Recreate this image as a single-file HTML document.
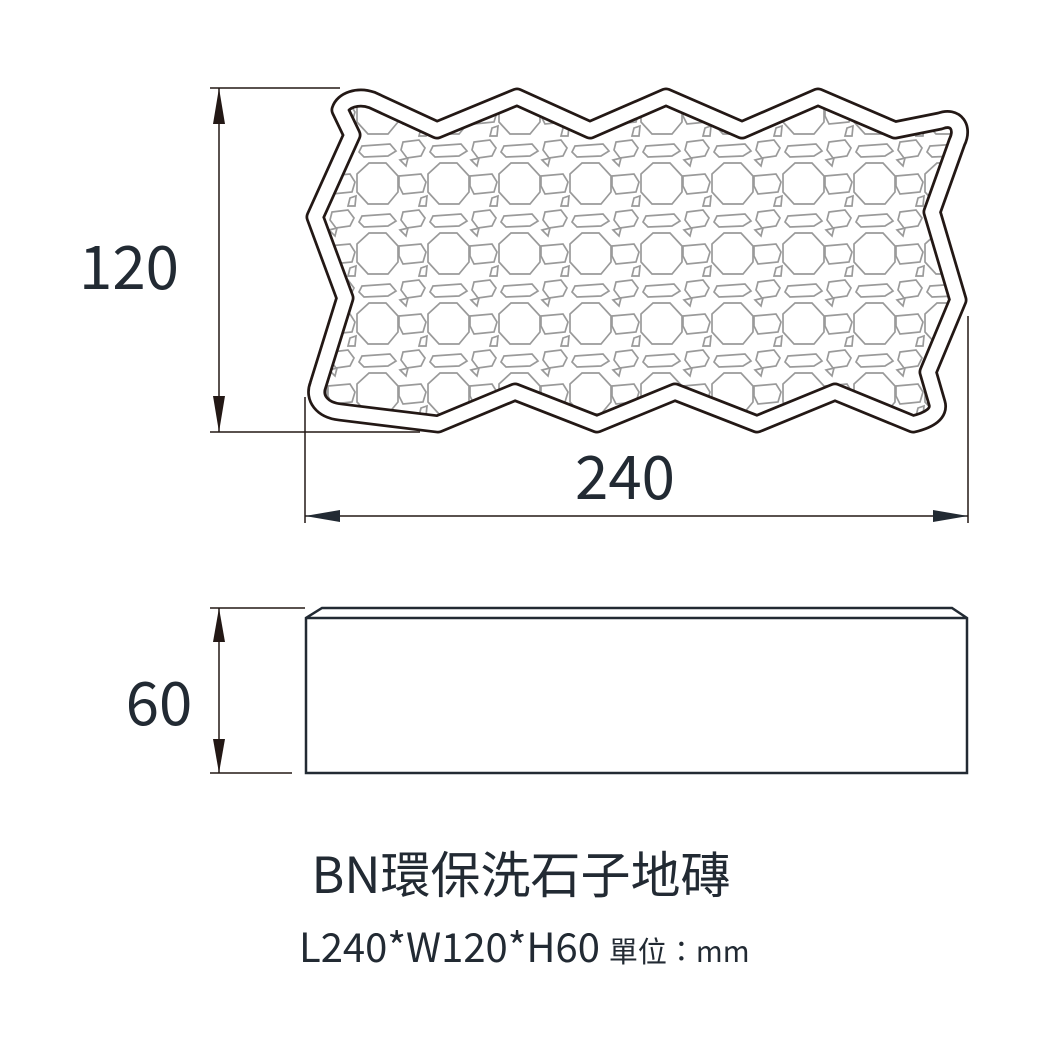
<!DOCTYPE html>
<html><head><meta charset="utf-8"><style>
html,body{margin:0;padding:0;background:#fff;}
svg{display:block}
text{font-family:"Noto Sans CJK TC","Liberation Sans",sans-serif;fill:#222a33}
</style></head><body>
<svg width="1042" height="1042" viewBox="0 0 1042 1042" xmlns="http://www.w3.org/2000/svg">
<defs>
<pattern id="pb" x="342" y="218" width="71" height="70" patternUnits="userSpaceOnUse">
<g fill="none" stroke="#9a9a9a" stroke-width="1.7">
<polygon points="27,15 44,15 56,28 56,44 46,56 26,56 15,44 15,26"/>
<polygon points="-10,-6 6,-8 12,0 8,8 -6,10 -12,2"/>
<polygon points="61,-6 77,-8 83,0 79,8 65,10 59,2"/>
<polygon points="-10,64 6,62 12,70 8,78 -6,80 -12,72"/>
<polygon points="61,64 77,62 83,70 79,78 65,80 59,72"/>
<polygon points="20,-2 48,-4 54,3 46,8 22,9 17,4"/>
<polygon points="20,68 48,66 54,73 46,78 22,79 17,74"/>
<polygon points="-14,28 8,26 13,34 10,44 -10,46 -14,38"/>
<polygon points="57,28 79,26 84,34 81,44 61,46 57,38"/>
<polygon points="58,12 66,10 64,18"/>
<polygon points="8,50 14,48 13,58 6,58"/>
</g>
</pattern>
</defs>
<path d="M340,110 C343,100 358,95 372,100 L437,130 L517,97 L590,130 L666,97 L742,130 L818,97 L895,130 L940,121 C956,115 964,128 957,142 L932,212 L958,300 L928,372 L937,403 C940,413 930,420 913,424 L835,392 L757,424 L675,392 L597,424 L515,392 L438,424 L340,412 C322,410 313,398 318,385 L345,298 L315,217 L352,135 Z" fill="url(#pb)" stroke="#231815" stroke-width="19" stroke-linejoin="round"/>
<path d="M340,110 C343,100 358,95 372,100 L437,130 L517,97 L590,130 L666,97 L742,130 L818,97 L895,130 L940,121 C956,115 964,128 957,142 L932,212 L958,300 L928,372 L937,403 C940,413 930,420 913,424 L835,392 L757,424 L675,392 L597,424 L515,392 L438,424 L340,412 C322,410 313,398 318,385 L345,298 L315,217 L352,135 Z" fill="none" stroke="#fff" stroke-width="13.5" stroke-linejoin="round"/>
<g stroke="#231815" stroke-width="1.5" fill="none">
<line x1="210" y1="88" x2="340" y2="88"/>
<line x1="210" y1="432" x2="420" y2="432"/>
<line x1="219" y1="88" x2="219" y2="432"/>
<line x1="305" y1="397" x2="305" y2="523"/>
<line x1="968" y1="316" x2="968" y2="523"/>
<line x1="305" y1="516" x2="968" y2="516"/>
<line x1="210" y1="608" x2="305" y2="608"/>
<line x1="210" y1="773" x2="292" y2="773"/>
<line x1="219" y1="608" x2="219" y2="773"/>
</g>
<g fill="#231815">
<polygon points="219,88 213,124 225,124"/>
<polygon points="219,432 213,396 225,396"/>
<polygon points="219,608 213,642 225,642"/>
<polygon points="219,773 213,739 225,739"/>
</g>
<g fill="#222a33">
<polygon points="305,516 340,510 340,522"/>
<polygon points="968,516 933,510 933,522"/>
</g>
<path d="M306,773 L306,618 L322,608 L952,608 L967,618 L967,773 Z M306,618 L967,618" fill="none" stroke="#222a33" stroke-width="2.5" stroke-linejoin="miter"/>
<text x="129" y="289" font-size="60" text-anchor="middle">120</text>
<text x="625" y="499" font-size="60" text-anchor="middle">240</text>
<text x="159" y="725" font-size="60" text-anchor="middle">60</text>
<text x="521" y="893" font-size="50" text-anchor="middle">BN環保洗石子地磚</text>
<text x="299" y="962" font-size="40">L240*W120*H60 <tspan font-size="29">單位：mm</tspan></text>
</svg>
</body></html>
